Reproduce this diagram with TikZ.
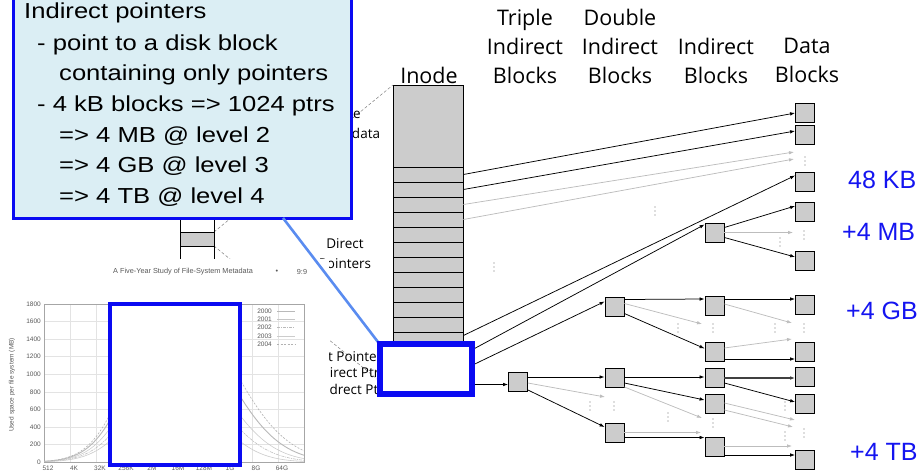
\documentclass[tikz,border=0pt]{standalone}
\usepackage{fontspec}
\usepackage{xcolor}
\usepackage{tikz}
\usetikzlibrary{calc,arrows.meta,positioning}
\newfontfamily\hdrfont{Open Sans}
\newfontfamily\slidefont{Liberation Sans}
\newfontfamily\calloutfont{Liberation Sans}[FakeStretch=1.18]
\definecolor{blockgray}{HTML}{CCCCCC}
\definecolor{ptrgray}{HTML}{BDBDBD}
\definecolor{calloutbg}{HTML}{DBEEF4}
\definecolor{rulebl}{HTML}{0A0AF2}
\definecolor{linkblue}{HTML}{5A8CF0}
\definecolor{sizeblue}{HTML}{1414F0}
\tikzset{
  ar/.style={-{Latex[length=5pt,width=3.6pt]},line width=0.75pt},
  ptr/.style={ar,black},
  gptr/.style={ar,ptrgray},
  blk/.style={draw=black,line width=0.8pt,fill=blockgray,minimum width=19pt,minimum height=19pt,inner sep=0pt},
  slot/.style={draw=black,line width=0.8pt,fill=blockgray,minimum width=70pt,minimum height=15pt,inner sep=0pt},
  hdr/.style={font=\hdrfont\fontsize{21.5}{29.2}\selectfont,align=center,inner sep=0pt,anchor=north},
  rem/.style={font=\hdrfont\fontsize{13.5}{20}\selectfont,inner sep=0pt},
  sizelbl/.style={font=\slidefont\fontsize{25}{30}\selectfont,text=sizeblue,anchor=west,inner sep=0pt},
  notetxt/.style={font=\calloutfont\fontsize{21.7}{30}\selectfont,anchor=base west,inner sep=0pt},
  zoomln/.style={gray,line width=0.5pt,dash pattern=on 3pt off 2pt},
  plotgrid/.style={gray!22,line width=0.4pt},
  tiny/.style={font=\slidefont\fontsize{6.5}{7.5}\selectfont,text=gray!70!black,inner sep=0pt},
  c2000/.style={gray!55,line width=0.9pt},
  c2001/.style={gray!45,line width=0.5pt},
  c2002/.style={gray!55,line width=0.5pt,dash pattern=on 3pt off 1pt on 1pt off 1pt},
  c2003/.style={gray!40,line width=0.6pt},
  c2004/.style={gray!60,line width=0.6pt,dash pattern=on 2pt off 1.5pt}
}
\newcommand\vdotsat[2]{\foreach \k in {0,4,8}{\fill[ptrgray] (#1,#2+\k) circle[radius=0.9pt];}}

\begin{document}
\begin{tikzpicture}[x=1pt,y=-1pt]
\useasboundingbox (0,0) rectangle (921,471);

% column headers
\node[hdr] (hinode) at (429,66.7) {Inode};
\node[hdr] (htriple) at (525,8.7) {Triple\\Indirect\\Blocks};
\node[hdr] (hdouble) at (620,8.7) {Double\\Indirect\\Blocks};
\node[hdr] (hind) at (716,37.9) {Indirect\\Blocks};
\node[hdr] (hdata) at (807,37.9) {Data\\Blocks};

% zoom lines from the inode array
\draw[zoomln] (214,232) -- (393,85);
\draw[zoomln] (214,246) -- (393,392);
\draw[line width=0.8pt] (180,214) -- (180,262) (214,214) -- (214,262);
\filldraw[fill=blockgray,line width=0.8pt] (180,232) rectangle (214,246);

% inode
\node[slot,minimum height=82pt] (inode) at (428,126) {};
\foreach \i in {1,...,15}
  \node[slot] (r\i) at (428,{159.5+15*\i}) {};

% blocks
\foreach \n/\yy in {1/113,2/135,3/181.5,4/212,5/261,6/304.5,7/351.5,8/376.5,9/404,10/459.5}
  \node[blk] (d\n) at (805,\yy) {};
\foreach \n/\yy in {1/232.5,2/306,3/351.5,4/378,5/404,6/446.5}
  \node[blk] (i\n) at (714.5,\yy) {};
\foreach \n/\yy in {1/306.5,2/378,3/432.5}
  \node[blk] (b\n) at (614.5,\yy) {};
\node[blk] (t1) at (518,382) {};

% open ends of the grey pointers
\coordinate (g1) at (794,152);
\coordinate (g2) at (794,159);
\coordinate (g3) at (793,232.5);
\coordinate (g4) at (702,324);
\coordinate (g5) at (792,323);
\coordinate (g6) at (792,339);
\coordinate (g7) at (605,397);
\coordinate (g8) at (702,418);
\coordinate (g9) at (701,432.5);
\coordinate (g10) at (795,420);
\coordinate (g11) at (793,427);
\coordinate (g12) at (792,446);

% direct pointers
\draw[ptr] (r1.east) -- (d1.west);
\draw[ptr] (r2.east) -- ($(d2.west)+(0,-4)$);
\draw[gptr] (r3.east) -- (g1);
\draw[gptr] (r4.east) -- (g2);
\draw[ptr] ($(r12.east)+(0,-4)$) -- ($(d3.west)+(0,-6)$);
% indirect, double, triple
\draw[ptr] (r13.east) -- ($(i1.west)+(0,-8)$);
\draw[ptr] (r14.east) -- ($(b1.west)+(0,-5)$);
\draw[ptr] (r15.east) -- (r15.east -| t1.west);

\draw[ptr] ($(i1.east)+(0,-5)$) -- ($(d4.west)+(0,-6)$);
\draw[gptr] (i1.east) -- (g3);
\draw[ptr] ($(i1.east)+(0,5)$) -- ($(d5.west)+(0,-4)$);

\draw[ptr] ($(b1.east)+(0,-7)$) -- ($(i2.west)+(0,-7)$);
\draw[gptr] ($(b1.east)+(0,-3)$) -- (g4);
\draw[ptr] ($(b1.east)+(0,7)$) -- ($(i3.west)+(0,-3)$);
\draw[ptr] ($(i2.east)+(0,-7)$) -- ($(d6.west)+(0,-5.5)$);
\draw[gptr] ($(i2.east)+(0,-2)$) -- (g5);
\draw[gptr] ($(i3.east)+(0,-3.5)$) -- (g6);
\draw[ptr] ($(i3.east)+(0,7.5)$) -- ($(d7.west)+(0,7.5)$);

\draw[ptr] ($(t1.east)+(0,-5)$) -- ($(b2.west)+(0,-1)$);
\draw[gptr] ($(t1.east)+(0,1)$) -- (g7);
\draw[ptr] ($(t1.east)+(0,8)$) -- ($(b3.west)+(0,-5.5)$);
\draw[ptr] ($(b2.east)+(0,-1)$) -- ($(i4.west)+(0,-1)$);
\draw[ptr] ($(b2.east)+(0,5)$) -- ($(i5.west)+(0,-4)$);
\draw[gptr] ($(b2.east)+(0,9)$) -- (g8);
\draw[gptr] (b3.east) -- (g9);
\draw[ptr] ($(b3.east)+(0,5)$) -- ($(i6.west)+(0,-9)$);
\draw[ptr,gray!50!black,line width=1.1pt] (i4.east) -- ($(d8.west)+(0,1.5)$);
\draw[ptr] ($(i4.east)+(0,5)$) -- ($(d9.west)+(0,-2)$);
\draw[gptr] ($(i5.east)+(0,-1)$) -- (g10);
\draw[gptr] ($(i5.east)+(0,6)$) -- (g11);
\draw[gptr] ($(i6.east)+(0,-0.5)$) -- (g12);
\draw[ptr] ($(i6.east)+(0,8.5)$) -- ($(d10.west)+(0,-4.5)$);

% elided entries
\foreach \xx/\yy in {805/157,655/207,494/263,780/238,804/231,678/324,713/324,775/324,804/324,590/402,614/402,668/413,713/419,785/402,785/432,804/429}
  {\vdotsat{\xx}{\yy}}

% labels of the original figure
\node[rem,align=center,anchor=north] (meta) at (350,107.7) {File\\Metadata};
\node[rem,align=center,anchor=north] (direct) at (345,238.7) {Direct\\Pointers};
\node[rem,anchor=base east] (pind) at (382.5,361) {Indirect Pointer};
\node[rem,anchor=base east] (pdbl) at (379.5,377) {Dbl. Indirect Ptr};
\node[rem,anchor=base east] (ptri) at (384,394) {Tripl. Indrect Ptr};

% pasted plot
\fill[white] (0,259) rectangle (329,471);
\node[tiny,anchor=west,font=\slidefont\fontsize{7.3}{8}\selectfont] (ptitle) at (113,272) {A Five-Year Study of File-System Metadata};
\node[tiny,font=\slidefont\fontsize{7.3}{8}\selectfont] (pdot) at (277,272) {\textbullet};
\node[tiny,font=\slidefont\fontsize{7.3}{8}\selectfont] (ppage) at (302,272) {9:9};
\foreach \k in {0,...,10}
  \draw[plotgrid] ({44+26*\k},304) -- ({44+26*\k},462);
\foreach \v [count=\k from 0] in {0,200,...,1800} {
  \draw[plotgrid] (44,{462-17.56*\k}) -- (304,{462-17.56*\k});
  \node[tiny,anchor=east] (yl\k) at (41,{462-17.56*\k}) {\v};
}
\foreach \lab [count=\k from 0] in {512,4K,32K,256K,2M,16M,128M,1G,8G,64G}
  \node[tiny,anchor=north] (xl\k) at ({48+26*\k},466) {\lab};
\draw[gray!70,line width=0.5pt] (44,304) rectangle (304,462);
\node[tiny,rotate=90] (ytitle) at (12,385) {Used space per file system (MB)};
\begin{scope}
  \clip (44,304) rectangle (304,462);
  \foreach \yr/\h/\s in {2000/150/75,2001/120/70,2002/95/66,2003/75/60,2004/170/80}
    \draw[c\yr] plot[domain=44:304,samples=90,smooth]
      (\x,{462-\h*exp(-((\x-172)/ifthenelse(\x<172,55,\s))*((\x-172)/ifthenelse(\x<172,55,\s)))});
\end{scope}
\foreach \yr/\yy in {2000/311,2001/319,2002/327,2003/336,2004/344} {
  \node[tiny,anchor=east] (lg\yr) at (272,\yy) {\yr};
  \draw[c\yr] ($(lg\yr.east)+(5,0)$) -- ++(18,0);
}
\draw[rulebl,line width=4pt,fill=white] (109.5,304) rectangle (239.5,465);

% callout
\node[draw=rulebl,line width=3pt,fill=calloutbg,minimum width=338pt,minimum height=228pt,inner sep=0pt] (callout) at (182.5,104) {};
\foreach \n/\xx/\yy/\t in {1/24/19/{Indirect pointers},2/37/50/{- point to a disk block},3/59/80.5/{containing only pointers},4/37/111/{- 4 kB blocks => 1024 ptrs},5/59/142/{=> 4 MB @ level 2},6/59/172.5/{=> 4 GB @ level 3},7/59/203.5/{=> 4 TB @ level 4}}
  \node[notetxt] (note\n) at (\xx,\yy) {\t};
\coordinate (calltip) at (283,218);

% highlighted pointers
\node[draw=rulebl,line width=4pt,fill=white,minimum width=90pt,minimum height=48pt,inner sep=0pt] (zoombox) at (426,369) {};
\draw[linkblue,line width=2.6pt] (calltip) -- ($(zoombox.north west)+(-1,-1)$);
\draw[rulebl,line width=4pt] (zoombox.north west) rectangle (zoombox.south east);

% sizes reached
\node[sizelbl] (kb48) at (848,180) {48 KB};
\node[sizelbl] (mb4) at (842,232) {+4 MB};
\node[sizelbl] (gb4) at (846,311) {+4 GB};
\node[sizelbl] (tb4) at (850,452) {+4 TB};
\end{tikzpicture}
\end{document}
